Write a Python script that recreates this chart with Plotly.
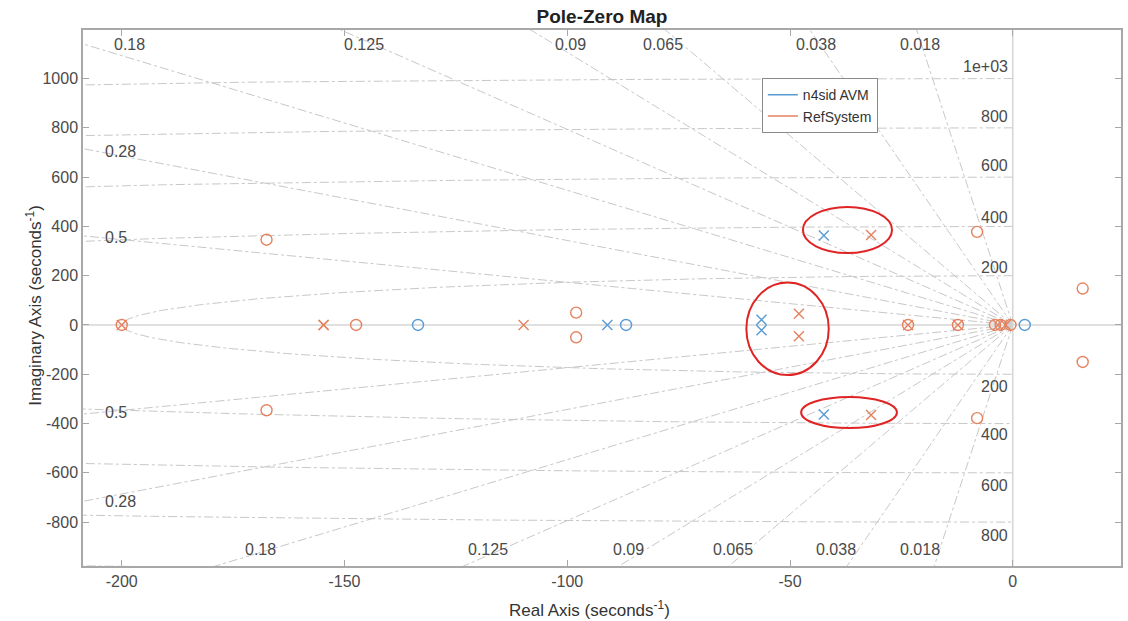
import numpy as np
import plotly.graph_objects as go

# ---- pole / zero locations (seconds^-1) ----
avm_pole_re = [-91.0, -56.4, -56.4, -42.4, -42.4]
avm_pole_im = [0.0, 21.0, -21.0, 363.0, -363.0]
avm_zero_re = [-133.5, -86.8, 2.7]
avm_zero_im = [0.0, 0.0, 0.0]

ref_pole_re = [-200.0, -154.7, -154.7, -109.8, -48.0, -48.0, -31.8, -31.8,
               -23.5, -12.3, -3.3, -1.6]
ref_pole_im = [0.0, 0.0, 0.0, 0.0, 46.0, -46.0, 365.0, -365.0,
               0.0, 0.0, 0.0, 0.0]
ref_zero_re = [-200.0, -167.5, -167.5, -147.4, -98.0, -98.0, -23.5, -12.3,
               -8.0, -8.0, -4.0, -2.7, -0.5, 15.7, 15.7]
ref_zero_im = [0.0, 346.0, -346.0, 0.0, 50.0, -50.0, 0.0, 0.0,
               378.0, -378.0, 0.0, 0.0, 0.0, 148.0, -150.0]

# ---- axis ticks ----
x_ticks = [-200, -150, -100, -50, 0]
x_tick_text = ["-200", "-150", "-100", "-50", "0"]
y_ticks = [-800, -600, -400, -200, 0, 200, 400, 600, 800, 1000]
y_tick_text = ["-800", "-600", "-400", "-200", "0", "200", "400", "600", "800", "1000"]

# ---- s-plane grid ----
damping = [0.5, 0.28, 0.18, 0.125, 0.09, 0.065, 0.038, 0.018]
wn_values = [200, 400, 600, 800, 1000]
wn_labels = ["200", "400", "600", "800", "1e+03"]

BLUE = "#5a9bd3"
ORANGE = "#e4825f"
GRID = "#c8c8c8"
TXT = "#4a4a4a"
FONT = "Liberation Sans, Arial, sans-serif"
LABEL_SIZE = 16

XR = [-208.7, 24.3]
YR = [-978, 1197]

fig = go.Figure()

# constant-damping rays
R = 3000.0
for z in damping:
    wd = R * np.sqrt(1 - z * z)
    fig.add_trace(go.Scatter(x=[0, -z * R, None, 0, -z * R], y=[0, wd, None, 0, -wd],
                             mode="lines", line=dict(color=GRID, width=1, dash="dashdot"),
                             hoverinfo="skip", showlegend=False))

# constant natural-frequency arcs (left half plane)
th = np.linspace(np.pi / 2, 3 * np.pi / 2, 400)
for wn in wn_values:
    fig.add_trace(go.Scatter(x=wn * np.cos(th), y=wn * np.sin(th), mode="lines",
                             line=dict(color=GRID, width=1, dash="dashdot"),
                             hoverinfo="skip", showlegend=False))

# real and imaginary axes
fig.add_trace(go.Scatter(x=[XR[0], XR[1]], y=[0, 0], mode="lines",
                         line=dict(color="#d6d6d6", width=1.6),
                         hoverinfo="skip", showlegend=False))
fig.add_trace(go.Scatter(x=[0, 0], y=[YR[0], YR[1]], mode="lines",
                         line=dict(color="#d6d6d6", width=1.6),
                         hoverinfo="skip", showlegend=False))

# poles and zeros
def add_pz(xs, ys, sym, color, size):
    fig.add_trace(go.Scatter(x=xs, y=ys, mode="markers", showlegend=False,
                             marker=dict(symbol=sym, size=size, color=color,
                                         line=dict(color=color, width=1.4))))

add_pz(ref_zero_re, ref_zero_im, "circle-open", ORANGE, 11)
add_pz(ref_pole_re, ref_pole_im, "x-thin-open", ORANGE, 10)
add_pz(avm_zero_re, avm_zero_im, "circle-open", BLUE, 11)
add_pz(avm_pole_re, avm_pole_im, "x-thin-open", BLUE, 10)

# legend entries
fig.add_trace(go.Scatter(x=[None], y=[None], mode="lines", name="n4sid AVM",
                         line=dict(color=BLUE, width=1.5)))
fig.add_trace(go.Scatter(x=[None], y=[None], mode="lines", name="RefSystem",
                         line=dict(color=ORANGE, width=1.5)))

annotations = []
# damping labels
top_lab = [("0.125", -145.7), ("0.09", -99.3),
           ("0.065", -78.5), ("0.038", -44.2), ("0.018", -20.9)]
bot_lab = [("0.18", -168.8), ("0.125", -117.7), ("0.09", -86.3),
           ("0.065", -62.8), ("0.038", -39.7), ("0.018", -20.9)]
for t, x in top_lab:
    annotations.append(dict(x=x, y=1140, text=t))
for t, x in bot_lab:
    annotations.append(dict(x=x, y=-909, text=t))
annotations.append(dict(x=-202.2, y=1140, text="0.18", xanchor="left"))
for t, y in [("0.28", 706), ("0.5", 353), ("0.5", -357), ("0.28", -718)]:
    annotations.append(dict(x=-204.3, y=y, text=t, xanchor="left"))
annotations = [dict(a, xref="x", yref="y", showarrow=False,
                    font=dict(family=FONT, size=LABEL_SIZE, color=TXT)) for a in annotations]

# natural-frequency labels
for t, y in zip(wn_labels, [235, 438, 649, 848, 1047]):
    annotations.append(dict(x=-0.6, y=y, text=t, xref="x", yref="y", xanchor="right",
                            showarrow=False, font=dict(family=FONT, size=LABEL_SIZE, color=TXT)))
for t, y in zip(wn_labels[:4], [-250, -446, -653, -856]):
    annotations.append(dict(x=-0.6, y=y, text=t, xref="x", yref="y", xanchor="right",
                            showarrow=False, font=dict(family=FONT, size=LABEL_SIZE, color=TXT)))

# axis titles
annotations.append(dict(x=0.4875, y=-0.056, xref="paper", yref="paper", yanchor="top",
                        text="Real Axis (seconds<sup>-1</sup>)", showarrow=False,
                        font=dict(family=FONT, size=17, color="#333")))
annotations.append(dict(x=-0.060, y=0.487, xref="paper", yref="paper", textangle=-90,
                        text="Imaginary Axis (seconds<sup>-1</sup>)", showarrow=False,
                        font=dict(family=FONT, size=17, color="#333")))

# highlighted regions
highlights = [(-47.1, 292, -27.1, 479), (-59.8, -203, -41.3, 172), (-47.5, -418, -26.0, -292)]
shapes = [dict(type="circle", xref="x", yref="y", x0=a, y0=b, x1=c, y1=d,
               line=dict(color="#e02424", width=2)) for a, b, c, d in highlights]

axis_common = dict(showgrid=False, zeroline=False, showline=True, linecolor="#a8a8a8",
                   linewidth=1.5, mirror="ticks", ticks="inside", ticklen=6,
                   tickcolor="#a8a8a8", tickfont=dict(family=FONT, size=16, color=TXT))

fig.update_layout(
    width=1128, height=621,
    margin=dict(l=83, r=5, t=30, b=55),
    paper_bgcolor="white", plot_bgcolor="white",
    title=dict(text="<b>Pole-Zero Map</b>", x=0.5, xref="paper", y=1 - 16 / 621,
               yanchor="middle", font=dict(family=FONT, size=19, color="#222")),
    xaxis=dict(range=XR, tickvals=x_ticks, ticktext=x_tick_text, **axis_common),
    yaxis=dict(range=YR, tickvals=y_ticks, ticktext=y_tick_text, **axis_common),
    legend=dict(x=0.654, y=0.910, xanchor="left", yanchor="top", bgcolor="white",
                bordercolor="#8a8a8a", borderwidth=1, tracegroupgap=0,
                font=dict(family=FONT, size=14, color="#333")),
    annotations=annotations, shapes=shapes,
)

fig.write_html("out.html")
